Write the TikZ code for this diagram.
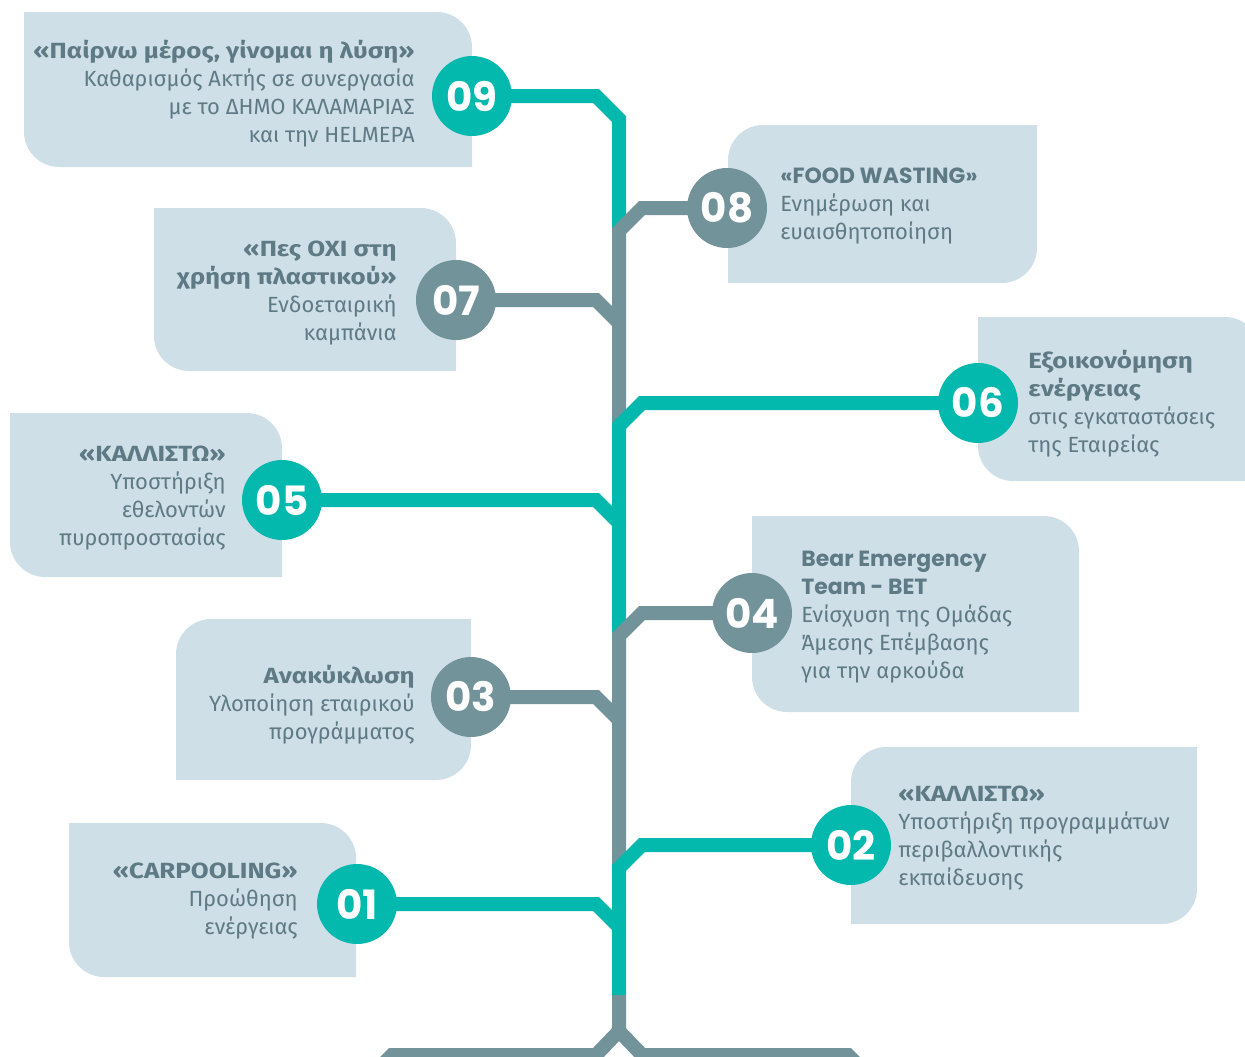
\documentclass[tikz,border=0pt]{standalone}
\usepackage{fontspec}
\setmainfont{Fira Sans}[BoldFeatures={FakeStretch=1.18}]
\newfontfamily\numfont{Poppins}
\definecolor{boxblue}{HTML}{CFDFE8}
\definecolor{treeteal}{HTML}{03B9AD}
\definecolor{treegrey}{HTML}{73939A}
\definecolor{txtgrey}{HTML}{5E7A85}
\begin{document}
\begin{tikzpicture}[x=0.02cm,y=-0.02cm,
    tealline/.style={draw=treeteal,line width=0.28cm},
    greyline/.style={draw=treegrey,line width=0.28cm},
    num/.style={circle,minimum size=1.6cm,inner sep=0pt,text=white,font=\numfont\bfseries\fontsize{23}{23}\selectfont},
    ltxt/.style={anchor=north east,align=right,inner sep=0pt,text=txtgrey,font=\fontsize{12.5}{15.9}\selectfont},
    rtxt/.style={anchor=north west,align=left,inner sep=0pt,text=txtgrey,font=\fontsize{12.5}{15.9}\selectfont}]
    \useasboundingbox (0,0) rectangle (1245,1056);
    \clip (0,0) rectangle (1245,1056);
    % boxes
    \foreach \xa/\ya/\xb/\yb in {24/12/472/167,154/208/456/371,978/317/1260/481,10/413/282/577,752/516/1079/712,69/823/356/977}
        \fill[boxblue] (\xa,\ya) [rounded corners=20pt] -- (\xb,\ya) [sharp corners] -- (\xb,\yb) [rounded corners=20pt] -- (\xa,\yb) [sharp corners] -- cycle;
    \foreach \xa/\ya/\xb/\yb in {728/125/1037/283,176/619/471/780,851/747/1197/924}
        \fill[boxblue] (\xa,\yb) [rounded corners=20pt] -- (\xa,\ya) [sharp corners] -- (\xb,\ya) [rounded corners=20pt] -- (\xb,\yb) [sharp corners] -- cycle;
    % circle centres
    \coordinate (p9) at (472,96);
    \coordinate (p8) at (727,208);
    \coordinate (p7) at (456,300);
    \coordinate (p6) at (978,403);
    \coordinate (p5) at (282,500);
    \coordinate (p4) at (752,613);
    \coordinate (p3) at (471,697);
    \coordinate (p2) at (851,845);
    \coordinate (p1) at (357,904);
    % tree
    \draw[tealline] (p9) -- (596,96) -- (619,119) -- (619,231);
    \draw[greyline] (p8) -- (642,208) -- (619,231) -- (619,426);
    \draw[greyline] (p7) -- (596,300) -- (619,323);
    \draw[tealline] (p6) -- (642,403) -- (619,426) -- (619,636);
    \draw[tealline] (p5) -- (596,500) -- (619,523);
    \draw[greyline] (p4) -- (642,613) -- (619,636) -- (619,868);
    \draw[greyline] (p3) -- (596,697) -- (619,720);
    \draw[tealline] (p2) -- (642,845) -- (619,868) -- (619,995);
    \draw[tealline] (p1) -- (596,904) -- (619,927);
    \draw[greyline] (619,995) -- (619,1031) -- (596,1055) -- (392,1055) -- (368,1079)
        (619,1031) -- (642,1055) -- (848,1055) -- (872,1079);
    % numbers
    \node[num,fill=treeteal] (c9) at (p9) {09};
    \node[num,fill=treegrey] (c8) at (p8) {08};
    \node[num,fill=treegrey] (c7) at (p7) {07};
    \node[num,fill=treeteal] (c6) at (p6) {06};
    \node[num,fill=treeteal] (c5) at (p5) {05};
    \node[num,fill=treegrey] (c4) at (p4) {04};
    \node[num,fill=treegrey] (c3) at (p3) {03};
    \node[num,fill=treeteal] (c2) at (p2) {02};
    \node[num,fill=treeteal] (c1) at (p1) {01};
    % texts
    \node[ltxt] (t9) at (415,40) {\textbf{«Παίρνω μέρος, γίνομαι η λύση»}\\Καθαρισμός Ακτής σε συνεργασία\\με το ΔΗΜΟ ΚΑΛΑΜΑΡΙΑΣ\\και την HELMEPA};
    \node[rtxt] (t8) at (780,168) {{\numfont\bfseries «FOOD WASTING»}\\Ενημέρωση και\\ευαισθητοποίηση};
    \node[ltxt] (t7) at (397,241) {\textbf{«Πες ΟΧΙ στη}\\\textbf{χρήση πλαστικού»}\\Ενδοεταιρική\\καμπάνια};
    \node[rtxt] (t6) at (1028,350) {\textbf{Εξοικονόμηση}\\\textbf{ενέργειας}\\στις εγκαταστάσεις\\της Εταιρείας};
    \node[ltxt] (t5) at (226,446) {\textbf{«ΚΑΛΛΙΣΤΩ»}\\Υποστήριξη\\εθελοντών\\πυροπροστασίας};
    \node[rtxt] (t4) at (801,551) {{\numfont\bfseries Bear Emergency}\\{\numfont\bfseries Team - BET}\\Ενίσχυση της Ομάδας\\Άμεσης Επέμβασης\\για την αρκούδα};
    \node[ltxt] (t3) at (415,665) {\textbf{Ανακύκλωση}\\Υλοποίηση εταιρικού\\προγράμματος};
    \node[rtxt] (t2) at (898,786) {\textbf{«ΚΑΛΛΙΣΤΩ»}\\Υποστήριξη προγραμμάτων\\περιβαλλοντικής\\εκπαίδευσης};
    \node[ltxt] (t1) at (298,863) {\textbf{«CARPOOLING»}\\Προώθηση\\ενέργειας};
\end{tikzpicture}
\end{document}
